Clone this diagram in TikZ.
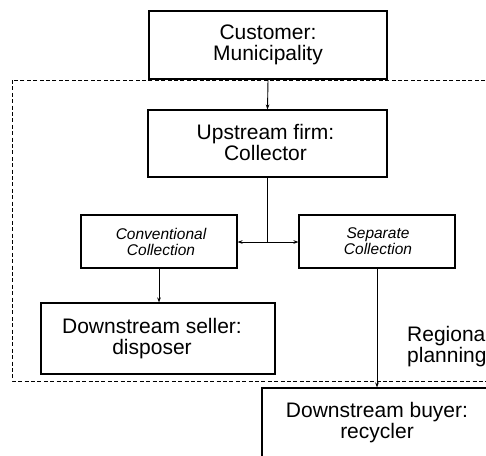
\documentclass[tikz,border=0pt]{standalone}
\usepackage{fontspec}
\setmainfont{Liberation Sans}
\usetikzlibrary{arrows.meta}
\begin{document}
\begin{tikzpicture}[x=1pt,y=-1pt,
  box/.style={draw, line width=1.1pt, align=center, inner sep=0pt},
  big/.style={font=\fontsize{21}{21}\selectfont},
  small/.style={font=\itshape\fontsize{15.5}{16}\selectfont},
  link/.style={-{Stealth[length=5pt,width=3.6pt]}, line width=0.9pt},
  region/.style={draw, line width=0.8pt, dash pattern=on 4pt off 2.4pt}]
\clip (0,0) rectangle (486,455);
\fill[white] (0,0) rectangle (486,455);

% regional planning boundary
\draw[region] (12,80) rectangle (530,381);

% boxes
\node[box, big, line width=1.8pt, minimum width=238pt, minimum height=68pt] (cust) at (268,45) {Customer:\\Municipality};
\node[box, big, minimum width=239pt, minimum height=67pt, text depth=2pt] (up) at (267.5,143.5) {\hspace*{-4pt}Upstream firm:\\\hspace*{-4pt}Collector};
\node[box, small, minimum width=156pt, minimum height=53pt] (conv) at (159,241.5) {\hspace*{4pt}Conventional\\\hspace*{4pt}Collection};
\node[box, small, minimum width=156pt, minimum height=53pt] (sep) at (377,241.5) {\hspace*{2pt}Separate\\\hspace*{2pt}Collection};
\node[box, big, minimum width=234pt, minimum height=71pt] (sell) at (158,338.5) {\hspace*{-12pt}Downstream seller:\\\hspace*{-12pt}disposer};
\node[box, big, minimum width=230pt, minimum height=70pt] (rec) at (377,423) {Downstream buyer:\\recycler};
\node[big, align=left, anchor=north west, inner sep=0pt] (reg) at (407,326) {Regiona\\planning};

% connectors
\coordinate (j) at (267,242);
\draw[link] (cust.south) -- (up.north);
\draw[line width=0.9pt] (up.south -| j) -- (j);
\draw[link] (j) -- (j -| conv.east);
\draw[link] (j) -- (j -| sep.west);
\draw[link] (conv.south) -- (conv.south |- sell.north);
\draw[link] (sep.south) -- (sep.south |- rec.north);
\end{tikzpicture}
\end{document}
